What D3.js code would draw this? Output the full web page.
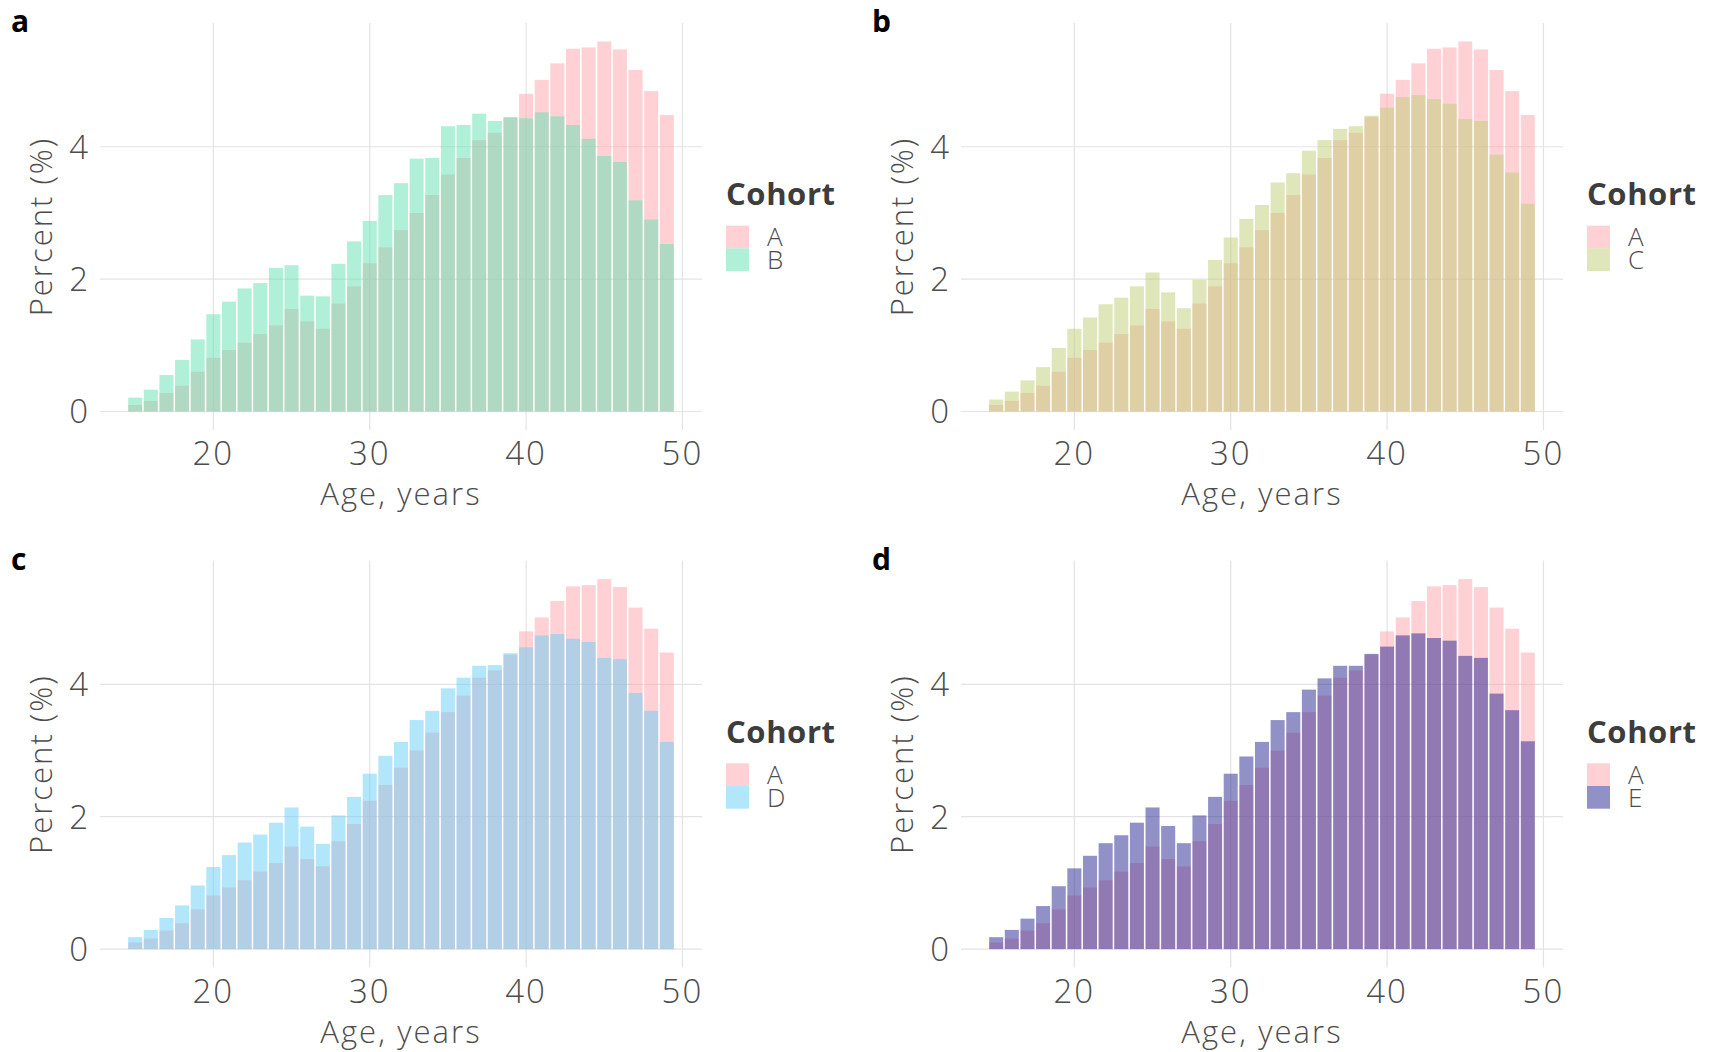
<!DOCTYPE html>
<html>
<head>
<meta charset="utf-8">
<script src="https://cdn.jsdelivr.net/npm/d3@7"></script>
<style>
  body { margin: 0; background: #fff; }
  text { font-family: "Open Sans", Lato, sans-serif; }
</style>
</head>
<body>
<svg id="chart" width="1713" height="1052"></svg>
<script>
// ages 15..49, one bar per year
const ages = d3.range(15, 50);

// percent of births by age
const cohortA = [0.10, 0.16, 0.28, 0.39, 0.60, 0.81, 0.93, 1.04, 1.17, 1.30,
                 1.55, 1.36, 1.25, 1.63, 1.89, 2.24, 2.48, 2.74, 3.00, 3.27,
                 3.58, 3.83, 4.10, 4.21, 4.45, 4.80, 5.01, 5.26, 5.48, 5.50,
                 5.59, 5.47, 5.16, 4.84, 4.48];
const cohortB = [0.21, 0.33, 0.55, 0.78, 1.09, 1.47, 1.66, 1.86, 1.94, 2.17,
                 2.21, 1.75, 1.74, 2.23, 2.57, 2.88, 3.27, 3.45, 3.82, 3.83,
                 4.31, 4.33, 4.50, 4.39, 4.44, 4.43, 4.52, 4.46, 4.33, 4.12,
                 3.86, 3.77, 3.19, 2.90, 2.53];
const cohortC = [0.18, 0.30, 0.47, 0.67, 0.96, 1.25, 1.42, 1.62, 1.72, 1.89,
                 2.10, 1.80, 1.56, 1.99, 2.29, 2.63, 2.91, 3.12, 3.46, 3.60,
                 3.94, 4.10, 4.27, 4.31, 4.47, 4.59, 4.75, 4.78, 4.72, 4.65,
                 4.42, 4.39, 3.88, 3.61, 3.14];
const cohortD = [0.18, 0.29, 0.47, 0.66, 0.96, 1.24, 1.42, 1.61, 1.73, 1.91,
                 2.14, 1.85, 1.59, 2.02, 2.30, 2.65, 2.92, 3.13, 3.46, 3.60,
                 3.94, 4.10, 4.28, 4.29, 4.47, 4.56, 4.74, 4.76, 4.69, 4.64,
                 4.40, 4.38, 3.87, 3.60, 3.13];
const cohortE = [0.18, 0.29, 0.46, 0.65, 0.95, 1.22, 1.41, 1.60, 1.72, 1.91,
                 2.14, 1.86, 1.60, 2.02, 2.30, 2.65, 2.91, 3.13, 3.46, 3.58,
                 3.92, 4.09, 4.28, 4.28, 4.46, 4.57, 4.74, 4.77, 4.70, 4.66,
                 4.43, 4.40, 3.86, 3.61, 3.14];

const xTicks = [20, 30, 40, 50];
const yTicks = [0, 2, 4];

const colorA = "#ffa3ab";
const panels = [
    {letter: "a", name: "B", values: cohortB, color: "#61e1b1", left: 100, top: 23},
    {letter: "b", name: "C", values: cohortC, color: "#bdcd75", left: 961, top: 23},
    {letter: "c", name: "D", values: cohortD, color: "#65cdf5", left: 100, top: 560.6},
    {letter: "d", name: "E", values: cohortE, color: "#232391", left: 961, top: 560.6}
];

const pw = 602;
const ph = 407;
const alpha = 0.5;
const textCol = "#4d4d4d";
const keyH = 22.7;

const svg = d3.select("#chart");

panels.forEach(p => {
    const g = svg.append("g").attr("transform", "translate(" + p.left + "," + p.top + ")");

    // ggplot style 5% expansion
    const x = d3.scaleLinear().domain([14.5 - 1.75, 49.5 + 1.75]).range([0, pw]);
    const top = d3.max(cohortA.concat(p.values));
    const y = d3.scaleLinear().domain([-0.05 * top, 1.05 * top]).range([ph, 0]);

    // grid
    g.append("g").selectAll("line").data(yTicks).enter().append("line")
        .attr("x1", 0).attr("x2", pw)
        .attr("y1", d => y(d)).attr("y2", d => y(d))
        .attr("stroke", "#e3e3e3").attr("stroke-width", 1.2);
    g.append("g").selectAll("line").data(xTicks).enter().append("line")
        .attr("y1", 0).attr("y2", ph)
        .attr("x1", d => x(d)).attr("x2", d => x(d))
        .attr("stroke", "#e3e3e3").attr("stroke-width", 1.2);

    // bars: A first, the other cohort on top
    const drawBars = (vals, col) => {
        g.append("g").selectAll("rect").data(ages).enter().append("rect")
            .attr("x", d => x(d - 0.5) + 0.8)
            .attr("width", d => x(d + 0.5) - x(d - 0.5) - 1.6)
            .attr("y", (d, i) => y(vals[i]))
            .attr("height", (d, i) => y(0) - y(vals[i]))
            .attr("fill", col)
            .attr("fill-opacity", alpha);
    };
    drawBars(cohortA, colorA);
    drawBars(p.values, p.color);

    // tick labels
    g.append("g").selectAll("text").data(yTicks).enter().append("text")
        .attr("x", -12).attr("y", d => y(d)).attr("dy", "0.36em")
        .attr("text-anchor", "end")
        .attr("font-size", 33).attr("font-weight", 300).attr("fill", textCol)
        .text(d => d);
    g.append("g").selectAll("text").data(xTicks).enter().append("text")
        .attr("x", d => x(d)).attr("y", 442)
        .attr("text-anchor", "middle")
        .attr("font-size", 33).attr("font-weight", 300).attr("fill", textCol)
        .attr("letter-spacing", 2)
        .text(d => d);

    // axis titles
    g.append("text")
        .attr("x", pw / 2).attr("y", 482)
        .attr("text-anchor", "middle")
        .attr("font-size", 31).attr("font-weight", 300).attr("fill", textCol)
        .attr("letter-spacing", 2.1)
        .text("Age, years");
    g.append("text")
        .attr("transform", "translate(-59," + (ph / 2) + ") rotate(-90)")
        .attr("text-anchor", "middle").attr("dy", "0.35em")
        .attr("font-size", 31).attr("font-weight", 300).attr("fill", textCol)
        .attr("letter-spacing", 2)
        .text("Percent (%)");

    // panel letter
    g.append("text")
        .attr("x", -89).attr("y", 9)
        .attr("font-family", "'Liberation Sans', Arial, sans-serif")
        .attr("font-size", 30).attr("font-weight", "bold").attr("fill", "#000")
        .text(p.letter);

    // legend
    const lg = g.append("g").attr("transform", "translate(626,0)");
    lg.append("text")
        .attr("x", 0).attr("y", 182)
        .attr("font-size", 31).attr("font-weight", 700).attr("fill", "#3d3d3d")
        .attr("letter-spacing", 0.6)
        .text("Cohort");
    const keys = [{name: "A", color: colorA}, {name: p.name, color: p.color}];
    lg.selectAll("rect").data(keys).enter().append("rect")
        .attr("x", 0).attr("y", (d, i) => 202.7 + i * keyH)
        .attr("width", 23).attr("height", keyH)
        .attr("fill", d => d.color).attr("fill-opacity", alpha);
    // labels stacked as lines of one text block
    lg.append("text")
        .attr("font-size", 26).attr("font-weight", 300).attr("fill", textCol)
        .selectAll("tspan").data(keys).enter().append("tspan")
        .attr("x", 41).attr("y", (d, i) => 202.7 + i * keyH + keyH / 2)
        .attr("dy", "0.36em")
        .text(d => d.name);
});
</script>
</body>
</html>
